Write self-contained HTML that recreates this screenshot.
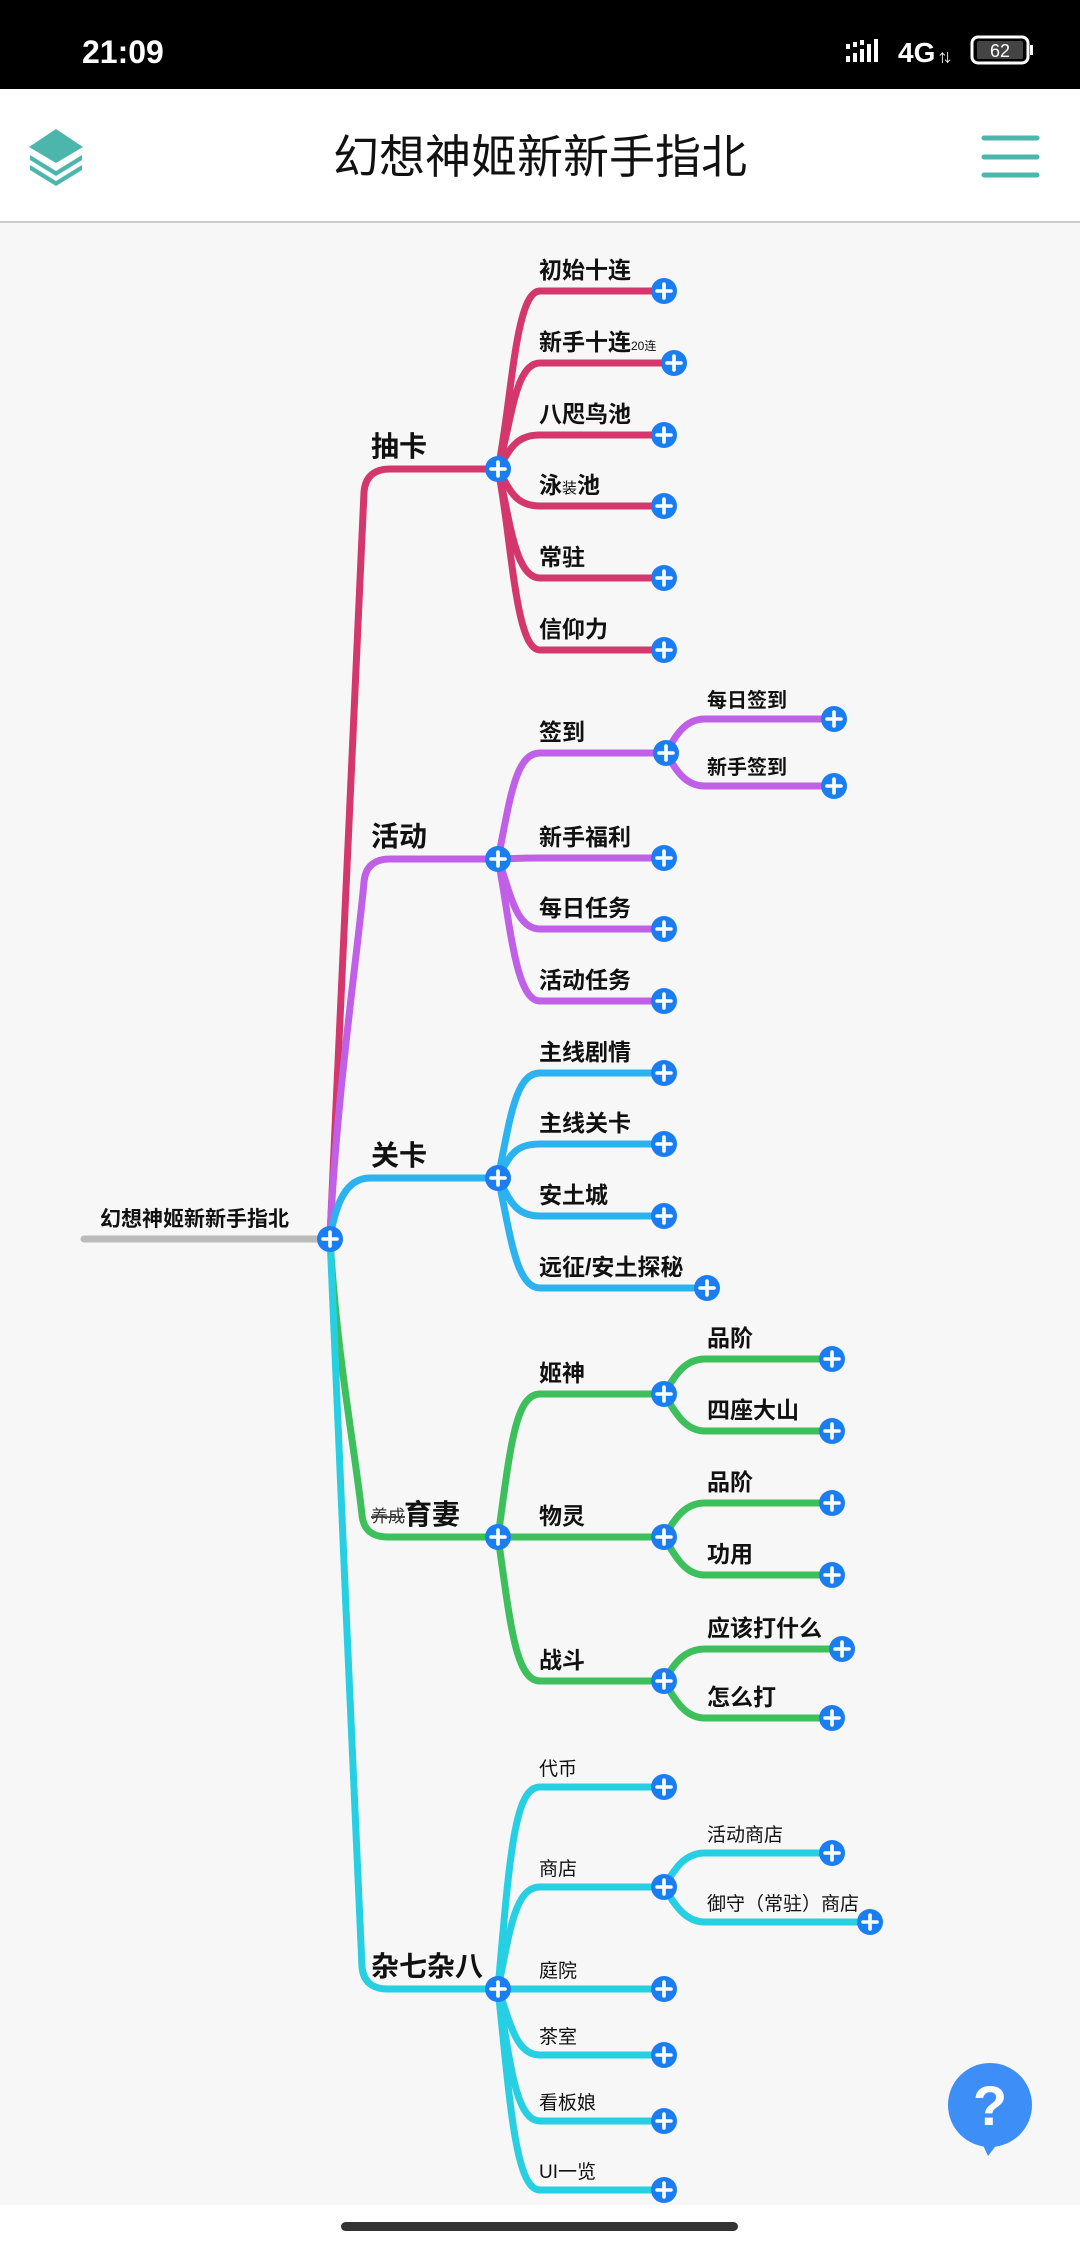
<!DOCTYPE html>
<html><head><meta charset="utf-8">
<style>
html,body{margin:0;padding:0;width:1080px;height:2248px;overflow:hidden;background:#fff;font-family:"Liberation Sans","Noto Sans CJK SC",sans-serif;}
</style></head><body>
<svg width="1080" height="2248" viewBox="0 0 1080 2248" xmlns="http://www.w3.org/2000/svg" style="position:absolute;left:0;top:0">
<defs>
<g id="pl"><circle r="13" fill="#1a7ef2"/><path d="M-7 0H7M0 -7V7" stroke="#fff" stroke-width="3.6" stroke-linecap="round"/></g>
</defs>
<rect x="0" y="0" width="1080" height="89" fill="#000"/>
<text x="82" y="63" fill="#fff" font-size="32" font-weight="bold" font-family="Liberation Sans,sans-serif">21:09</text>
<g fill="#fff">
<rect x="846" y="56" width="4" height="6"/><rect x="853" y="53" width="4" height="9"/><rect x="860" y="49" width="4" height="13"/><rect x="867" y="44" width="4" height="18"/><rect x="874" y="39" width="4" height="23"/>
<rect x="846" y="44" width="4" height="5"/><rect x="853" y="42" width="4" height="5"/><rect x="860" y="40" width="4" height="5"/>
</g>
<text x="898" y="62" fill="#fff" font-size="28" font-weight="bold">4G</text>
<text x="939" y="62" fill="#fff" font-size="12">⇅</text>
<rect x="972" y="37" width="56" height="26" rx="6" fill="none" stroke="#fff" stroke-width="3"/>
<rect x="977" y="41" width="46" height="18" rx="2" fill="#444"/>
<rect x="1030" y="45" width="3" height="10" fill="#fff"/>
<text x="1000" y="57" fill="#fff" font-size="18" text-anchor="middle">62</text>
<rect x="0" y="89" width="1080" height="133" fill="#fff"/>
<g fill="#4db6ac">
<polygon points="56,129 83,147 56,163 29,147"/>
<polygon points="30,155 56,171 82,155 82,160 56,176 30,160" />
<polygon points="30,165 56,181 82,165 82,170 56,186 30,170" />
</g>
<text x="540" y="173" font-size="46" text-anchor="middle" fill="#111" font-family="Liberation Sans,'Noto Sans CJK SC',sans-serif">幻想神姬新新手指北</text>
<g stroke="#4db6ac" stroke-width="5" stroke-linecap="round"><path d="M984 138H1037M984 157H1037M984 175H1037"/></g>
<rect x="0" y="221" width="1080" height="2" fill="#ccc"/>
<rect x="0" y="223" width="1080" height="1982" fill="#f7f7f7"/>

<g fill="none" stroke-width="7" stroke-linecap="round">
<path d="M84 1239H318" stroke="#bbb"/>
<path d="M330 1237 C336 1100 355 700 364 492 Q366 469 390 469 L498 469" stroke="#d4376c"/>
<path d="M330 1237 C336 1100 358 950 364 882 Q366 859 390 859 L498 859" stroke="#c060e6"/>
<path d="M330 1237 C336 1205 345 1178 370 1178 L498 1178" stroke="#2bb3f0"/>
<path d="M330 1237 C336 1350 355 1450 362 1515 Q364 1537 388 1537 L498 1537" stroke="#3dbf5c"/>
<path d="M330 1237 C336 1400 355 1800 362 1967 Q364 1989 388 1989 L498 1989" stroke="#27cfe3"/>
<g stroke="#d4376c">
<path d="M498 469 C512 400 515 291 540 291 L664 291"/>
<path d="M498 469 C512 420 515 363 540 363 L674 363"/>
<path d="M498 469 C510 450 515 435 540 435 L664 435"/>
<path d="M498 469 C510 490 515 506 540 506 L664 506"/>
<path d="M498 469 C510 520 515 578 540 578 L664 578"/>
<path d="M498 469 C512 540 515 650 540 650 L664 650"/>
</g>
<g stroke="#c060e6">
<path d="M498 859 C510 800 515 753 540 753 L666 753"/>
<path d="M498 859 C510 859 515 858 540 858 L664 858"/>
<path d="M498 859 C510 890 515 929 540 929 L664 929"/>
<path d="M498 859 C510 920 515 1001 540 1001 L664 1001"/>
<path d="M666 753 C676 735 685 719 705 719 L834 719"/>
<path d="M666 753 C676 770 685 786 705 786 L834 786"/>
</g>
<g stroke="#2bb3f0">
<path d="M498 1178 C510 1120 515 1073 540 1073 L664 1073"/>
<path d="M498 1178 C510 1155 515 1144 540 1144 L664 1144"/>
<path d="M498 1178 C510 1200 515 1216 540 1216 L664 1216"/>
<path d="M498 1178 C510 1230 515 1288 540 1288 L707 1288"/>
</g>
<g stroke="#3dbf5c">
<path d="M498 1537 C510 1450 515 1394 540 1394 L664 1394"/>
<path d="M498 1537 L664 1537"/>
<path d="M498 1537 C510 1620 515 1681 540 1681 L664 1681"/>
<path d="M664 1394 C675 1375 685 1359 705 1359 L832 1359"/>
<path d="M664 1394 C675 1412 685 1431 705 1431 L832 1431"/>
<path d="M664 1537 C675 1518 685 1503 705 1503 L832 1503"/>
<path d="M664 1537 C675 1556 685 1575 705 1575 L832 1575"/>
<path d="M664 1681 C675 1662 685 1649 705 1649 L842 1649"/>
<path d="M664 1681 C675 1700 685 1718 705 1718 L832 1718"/>
</g>
<g stroke="#27cfe3">
<path d="M498 1989 C510 1850 515 1787 540 1787 L664 1787"/>
<path d="M498 1989 C510 1930 515 1887 540 1887 L664 1887"/>
<path d="M498 1989 L664 1989"/>
<path d="M498 1989 C510 2020 515 2055 540 2055 L664 2055"/>
<path d="M498 1989 C510 2060 515 2121 540 2121 L664 2121"/>
<path d="M498 1989 C510 2100 515 2190 540 2190 L664 2190"/>
<path d="M664 1887 C675 1868 685 1853 705 1853 L832 1853"/>
<path d="M664 1887 C675 1905 685 1922 705 1922 L870 1922"/>
</g>
</g>

<g font-weight="bold" fill="#111" font-size="21">
<text x="100" y="1226">幻想神姬新新手指北</text>
</g>
<g font-weight="bold" fill="#111" font-size="28">
<text x="371" y="456">抽卡</text>
<text x="371" y="846">活动</text>
<text x="371" y="1165">关卡</text>
<text x="404" y="1524">育妻</text>
<text x="371" y="1976">杂七杂八</text>
</g>
<text x="371" y="1522" font-size="17" fill="#333" text-decoration="line-through">养成</text>
<g font-weight="bold" fill="#111" font-size="23">
<text x="539" y="278">初始十连</text>
<text x="539" y="350">新手十连<tspan font-size="12" font-weight="normal">20连</tspan></text>
<text x="539" y="422">八咫鸟池</text>
<text x="539" y="493">泳<tspan font-size="15" font-weight="normal">装</tspan>池</text>
<text x="539" y="565">常驻</text>
<text x="539" y="637">信仰力</text>
<text x="539" y="740">签到</text>
<text x="539" y="845">新手福利</text>
<text x="539" y="916">每日任务</text>
<text x="539" y="988">活动任务</text>
<text x="539" y="1060">主线剧情</text>
<text x="539" y="1131">主线关卡</text>
<text x="539" y="1203">安土城</text>
<text x="539" y="1275">远征/安土探秘</text>
<text x="539" y="1381">姬神</text>
<text x="539" y="1524">物灵</text>
<text x="539" y="1668">战斗</text>
<text x="707" y="1346">品阶</text>
<text x="707" y="1418">四座大山</text>
<text x="707" y="1490">品阶</text>
<text x="707" y="1562">功用</text>
<text x="707" y="1636">应该打什么</text>
<text x="707" y="1705">怎么打</text>
</g>
<g font-weight="bold" fill="#111" font-size="20">
<text x="707" y="707">每日签到</text>
<text x="707" y="774">新手签到</text>
</g>
<g fill="#111" font-size="19">
<text x="539" y="1775">代币</text>
<text x="539" y="1875">商店</text>
<text x="539" y="1977">庭院</text>
<text x="539" y="2043">茶室</text>
<text x="539" y="2109">看板娘</text>
<text x="539" y="2178">UI一览</text>
<text x="707" y="1841">活动商店</text>
<text x="707" y="1910">御守（常驻）商店</text>
</g>

<g>
<use href="#pl" x="330" y="1239"/>
<use href="#pl" x="498" y="469"/><use href="#pl" x="498" y="859"/><use href="#pl" x="498" y="1178"/><use href="#pl" x="498" y="1537"/><use href="#pl" x="498" y="1989"/>
<use href="#pl" x="664" y="291"/><use href="#pl" x="674" y="363"/><use href="#pl" x="664" y="435"/><use href="#pl" x="664" y="506"/><use href="#pl" x="664" y="578"/><use href="#pl" x="664" y="650"/>
<use href="#pl" x="666" y="753"/><use href="#pl" x="664" y="858"/><use href="#pl" x="664" y="929"/><use href="#pl" x="664" y="1001"/>
<use href="#pl" x="834" y="719"/><use href="#pl" x="834" y="786"/>
<use href="#pl" x="664" y="1073"/><use href="#pl" x="664" y="1144"/><use href="#pl" x="664" y="1216"/><use href="#pl" x="707" y="1288"/>
<use href="#pl" x="664" y="1394"/><use href="#pl" x="664" y="1537"/><use href="#pl" x="664" y="1681"/>
<use href="#pl" x="832" y="1359"/><use href="#pl" x="832" y="1431"/><use href="#pl" x="832" y="1503"/><use href="#pl" x="832" y="1575"/><use href="#pl" x="842" y="1649"/><use href="#pl" x="832" y="1718"/>
<use href="#pl" x="664" y="1787"/><use href="#pl" x="664" y="1887"/><use href="#pl" x="664" y="1989"/><use href="#pl" x="664" y="2055"/><use href="#pl" x="664" y="2121"/><use href="#pl" x="664" y="2190"/>
<use href="#pl" x="832" y="1853"/><use href="#pl" x="870" y="1922"/>
</g>

<circle cx="990" cy="2105" r="42" fill="#3d8ef7"/>
<polygon points="982,2143 998,2143 988,2156" fill="#3d8ef7"/>
<text x="990" y="2125" font-size="56" font-weight="bold" fill="#fff" text-anchor="middle">?</text>

<rect x="341" y="2222" width="397" height="9" rx="4.5" fill="#333"/>
</svg>
</body></html>
